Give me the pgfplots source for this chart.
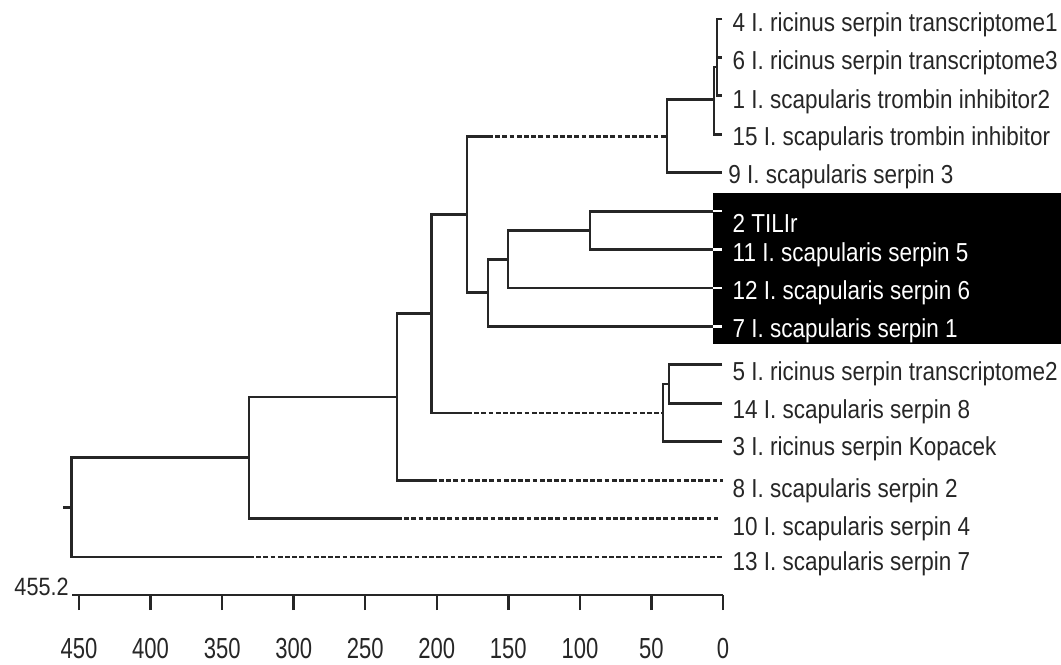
\documentclass[border=0pt]{standalone}
\usepackage{pgfplots}
\pgfplotsset{compat=1.18}
\usepackage{fontspec}
\setmainfont{Liberation Sans}
\newfontfamily\leaffont{Liberation Sans}[FakeStretch=0.865]
\newfontfamily\tickfont{Liberation Sans}[FakeStretch=0.76]
\definecolor{ln}{gray}{0.15}
\definecolor{tx}{gray}{0.15}
\begin{document}
\begin{tikzpicture}[
  br/.style={color=ln, line width=1.4pt, line join=miter},
  dbr/.style={color=ln, line width=1.4pt, dash pattern=on 2.4pt off 1.2pt},
  wst/.style={color=white, line width=1.3pt},
  lbl/.style={anchor=base west, inner sep=0pt, text=tx, font=\leaffont\fontsize{13pt}{15pt}\selectfont},
  wlbl/.style={lbl, text=white}]
\begin{axis}[name=main, scale only axis, width=530.5pt, height=330pt,
  xmin=-236.2, xmax=505.2, x dir=reverse,
  ymin=0.5056, ymax=17.68, y dir=reverse,
  hide axis, clip=false]
\path (rel axis cs:0,0) rectangle (rel axis cs:1,1);
% highlight box
\addplot[fill=black, draw=none] coordinates {(7,5.53) (-236.2,5.53) (-236.2,9.46) (7,9.46)} -- cycle;
% cluster 4,6,1,15,9
\addplot[br] coordinates {(0.5,1) (4.2,1) (4.2,3) (0.5,3)};
\addplot[br] coordinates {(4.2,2) (0.5,2)};
\addplot[br] coordinates {(4.2,2.25) (6.3,2.25) (6.3,4) (0.5,4)};
\addplot[br] coordinates {(6.3,3.1) (39.1,3.1) (39.1,5) (0.5,5)};
% highlighted cluster
\addplot[br] coordinates {(7,6) (92.9,6) (92.9,7) (7,7)};
\addplot[br] coordinates {(92.9,6.5) (150.2,6.5) (150.2,8) (7,8)};
\addplot[br] coordinates {(150.2,7.25) (164.2,7.25) (164.2,9) (7,9)};
\addplot[wst] coordinates {(7,6) (1,6)};
\addplot[wst] coordinates {(7,7) (1,7)};
\addplot[wst] coordinates {(7,8) (1,8)};
\addplot[wst] coordinates {(7,9) (1,9)};
% upper node
\addplot[br] coordinates {(164.2,4.05) (178.9,4.05) (178.9,8.125) (164.2,8.125)};
\addplot[dbr] coordinates {(164.2,4.05) (39.1,4.05)};
% cluster 5,14,3
\addplot[br] coordinates {(0.5,10) (37.7,10) (37.7,11) (0.5,11)};
\addplot[br] coordinates {(37.7,10.5) (41.9,10.5) (41.9,12) (0.5,12)};
% middle node
\addplot[br] coordinates {(178.9,6.09) (203.4,6.09) (203.4,11.25) (178.9,11.25)};
\addplot[dbr] coordinates {(178.9,11.25) (41.9,11.25)};
% node with 8
\addplot[br] coordinates {(203.4,8.67) (227.8,8.67) (227.8,13) (203.4,13)};
\addplot[dbr] coordinates {(203.4,13) (0.3,13)};
% node with 10
\addplot[br] coordinates {(227.8,10.835) (331.2,10.835) (331.2,14) (227.8,14)};
\addplot[dbr] coordinates {(227.8,14) (3.5,14)};
% root
\addplot[br] coordinates {(331.2,12.42) (455.2,12.42) (455.2,15) (331.2,15)};
\addplot[dbr] coordinates {(331.2,15) (0.7,15)};
\addplot[br] coordinates {(455.2,13.71) (461.5,13.71)};
% labels
\node[lbl] at (axis cs:-6.5,1.330) {4 I. ricinus serpin transcriptome1};
\node[lbl] at (axis cs:-6.5,2.327) {6 I. ricinus serpin transcriptome3};
\node[lbl] at (axis cs:-6.5,3.316) {1 I. scapularis trombin inhibitor2};
\node[lbl] at (axis cs:-6.5,4.279) {15 I. scapularis trombin inhibitor};
\node[lbl] at (axis cs:-3.5,5.268) {9 I. scapularis serpin 3};
\node[wlbl] at (axis cs:-6.5,6.543) {2 TILIr};
\node[wlbl] at (axis cs:-6.5,7.323) {11 I. scapularis serpin 5};
\node[wlbl] at (axis cs:-6.5,8.312) {12 I. scapularis serpin 6};
\node[wlbl] at (axis cs:-6.5,9.275) {7 I. scapularis serpin 1};
\node[lbl] at (axis cs:-6.5,10.394) {5 I. ricinus serpin transcriptome2};
\node[lbl] at (axis cs:-6.5,11.383) {14 I. scapularis serpin 8};
\node[lbl] at (axis cs:-6.5,12.346) {3 I. ricinus serpin Kopacek};
\node[lbl] at (axis cs:-6.5,13.439) {8 I. scapularis serpin 2};
\node[lbl] at (axis cs:-6.5,14.428) {10 I. scapularis serpin 4};
\node[lbl] at (axis cs:-6.5,15.339) {13 I. scapularis serpin 7};
\end{axis}
\begin{axis}[at={(361.5pt,32.5pt)}, anchor=south east, scale only axis,
  width=325.7pt, height=20pt,
  xmin=0, xmax=455.2, x dir=reverse, ymin=0, ymax=1,
  axis x line*=bottom, axis y line=none,
  x axis line style={-, line width=1.4pt, ln},
  xtick={0,50,...,450}, tick align=outside, major tick length=7.5pt,
  xtick style={line width=1.2pt, ln},
  xticklabel style={font=\tickfont\fontsize{14.5pt}{16pt}\selectfont, text=tx, anchor=base, yshift=-24pt},
  /pgf/number format/assume math mode=true,
  clip=false]
\node[anchor=base east, inner sep=0pt, text=tx, font=\leaffont\fontsize{12.5pt}{14pt}\selectfont] at (axis cs:457,0) {455.2};
\end{axis}
\end{tikzpicture}
\end{document}
